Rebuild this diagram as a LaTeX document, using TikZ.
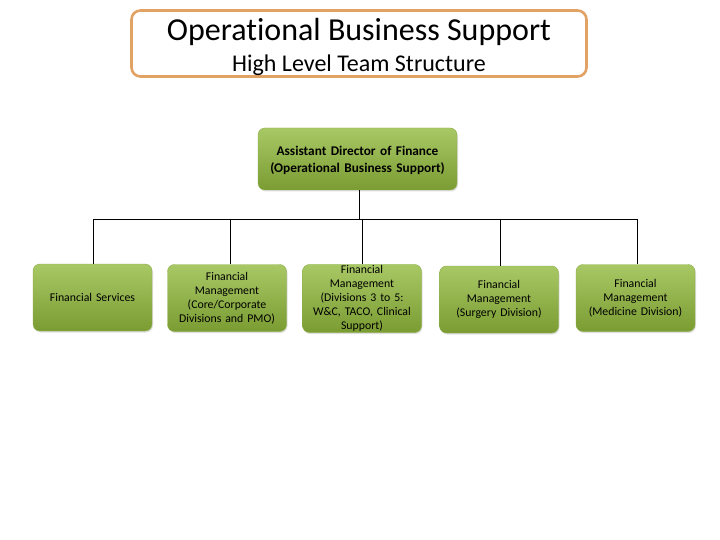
\documentclass[tikz,border=0pt]{standalone}
\usepackage{fontspec}
\setmainfont[Ligatures={NoCommon}]{Carlito}
\usetikzlibrary{shadows}
\definecolor{gtop}{HTML}{A8C865}
\definecolor{gbot}{HTML}{7A9C32}
\definecolor{gedge}{HTML}{8CAE48}
\definecolor{obord}{HTML}{E2A264}
\tikzset{
  gbox/.style={rounded corners=7pt, top color=gtop, bottom color=gbot, draw=gedge, line width=0.4pt,
    minimum width=119pt, minimum height=67pt, align=center, inner sep=1pt, text width=117pt,
    font=\fontsize{11.8}{14}\selectfont, drop shadow={opacity=0.25, shadow xshift=1pt, shadow yshift=-1.5pt}},
  conn/.style={draw=black, line width=0.8pt}
}
\begin{document}
\begin{tikzpicture}[x=1pt,y=-1pt]
\useasboundingbox (0,0) rectangle (720,540);
\fill[white] (0,0) rectangle (720,540);
\node[draw=obord, line width=2.6pt, rounded corners=9pt, minimum width=455pt, minimum height=66pt] (title) at (359,43.5) {};
\node[font=\fontsize{32}{34}\selectfont] (t1) at (359,31.5) {Operational Business Support};
\node[font=\fontsize{24}{26}\selectfont] (t2) at (359,65) {High Level Team Structure};

\node[gbox, minimum width=199pt, minimum height=62pt, text width=195pt, font=\bfseries\fontsize{13.3}{17}\selectfont] (top) at (357.5,159) {\strut Assistant Director of Finance\\(Operational Business Support)};

\node[gbox] (c1) at (92.5,297.5) {Financial Services};
\node[gbox] (c2) at (227,298) {Financial\\Management\\(Core/Corporate\\Divisions and PMO)};
\node[gbox] (c3) at (362,298.5) {Financial\\Management\\(Divisions 3 to 5:\\W\&C, TACO, Clinical\\Support)};
\node[gbox] (c4) at (499,299.5) {Financial\\Management\\(Surgery Division)};
\node[gbox] (c5) at (635.5,298) {Financial\\Management\\(Medicine Division)};

\coordinate (bus) at (359,219);
\draw[conn] (top.south -| bus) -- (bus);
\draw[conn] (93,219) -- (637,219);
\draw[conn] (93,219) -- (c1.north -| 93,0);
\draw[conn] (230,219) -- (c2.north -| 230,0);
\draw[conn] (362,219) -- (c3.north -| 362,0);
\draw[conn] (500,219) -- (c4.north -| 500,0);
\draw[conn] (637,219) -- (c5.north -| 637,0);
\end{tikzpicture}
\end{document}
